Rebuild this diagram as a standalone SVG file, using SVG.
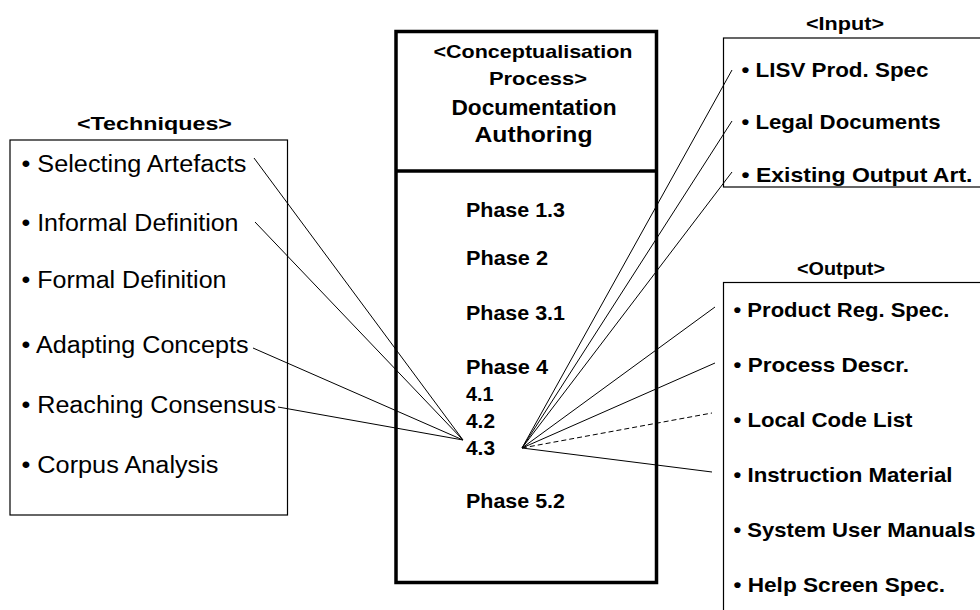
<svg xmlns="http://www.w3.org/2000/svg" width="980" height="610" viewBox="0 0 980 610">
  <style>
    text { font-family: "Liberation Sans", Arial, sans-serif; fill: #000; }
    .item { font-size: 23.5px; }
    .head { font-size: 18.5px; font-weight: bold; }
    .bitem { font-size: 21px; font-weight: bold; }
    .title { font-size: 22px; font-weight: bold; }
    .phase { font-size: 21px; font-weight: bold; }
    .box { fill: #fff; stroke: #000; stroke-width: 1.2; }
    .process { fill: #fff; stroke: #000; stroke-width: 3.5; }
    .link { stroke: #000; stroke-width: 1; fill: none; }
    .dashed { stroke-dasharray: 5 3; }
  </style>

  <!-- Techniques -->
  <g id="techniques">
    <text class="head" x="77" y="130" textLength="155" lengthAdjust="spacingAndGlyphs">&lt;Techniques&gt;</text>
    <rect class="box" x="10" y="140" width="277.5" height="375"/>
    <text class="item" x="21.5" y="172" textLength="225" lengthAdjust="spacingAndGlyphs">• Selecting Artefacts</text>
    <text class="item" x="21.5" y="231" textLength="217" lengthAdjust="spacingAndGlyphs">• Informal Definition</text>
    <text class="item" x="21.5" y="288" textLength="205" lengthAdjust="spacingAndGlyphs">• Formal Definition</text>
    <text class="item" x="21.5" y="353" textLength="227" lengthAdjust="spacingAndGlyphs">• Adapting Concepts</text>
    <text class="item" x="21.5" y="413" textLength="254.5" lengthAdjust="spacingAndGlyphs">• Reaching Consensus</text>
    <text class="item" x="21.5" y="473" textLength="197" lengthAdjust="spacingAndGlyphs">• Corpus Analysis</text>
  </g>

  <!-- Process -->
  <g id="process">
    <rect class="process" x="396" y="31.5" width="260.5" height="551"/>
    <line x1="396" y1="171" x2="656.5" y2="171" stroke="#000" stroke-width="3.5"/>
    <text class="head" x="433.5" y="58" textLength="199" lengthAdjust="spacingAndGlyphs">&lt;Conceptualisation</text>
    <text class="head" x="489" y="85" textLength="98" lengthAdjust="spacingAndGlyphs">Process&gt;</text>
    <text class="title" x="451.5" y="114.5" textLength="165" lengthAdjust="spacingAndGlyphs">Documentation</text>
    <text class="title" x="474.5" y="142" textLength="118" lengthAdjust="spacingAndGlyphs">Authoring</text>
    <text class="phase" x="466" y="217" textLength="99" lengthAdjust="spacingAndGlyphs">Phase 1.3</text>
    <text class="phase" x="466" y="265" textLength="82" lengthAdjust="spacingAndGlyphs">Phase 2</text>
    <text class="phase" x="466" y="320" textLength="99" lengthAdjust="spacingAndGlyphs">Phase 3.1</text>
    <text class="phase" x="466" y="374" textLength="82" lengthAdjust="spacingAndGlyphs">Phase 4</text>
    <text class="phase" x="466" y="401" textLength="27.5" lengthAdjust="spacingAndGlyphs">4.1</text>
    <text class="phase" x="466" y="428" textLength="29" lengthAdjust="spacingAndGlyphs">4.2</text>
    <text class="phase" x="466" y="455" textLength="29" lengthAdjust="spacingAndGlyphs">4.3</text>
    <text class="phase" x="466" y="508" textLength="99" lengthAdjust="spacingAndGlyphs">Phase 5.2</text>
  </g>

  <!-- Input -->
  <g id="input">
    <text class="head" x="806" y="30" textLength="78" lengthAdjust="spacingAndGlyphs">&lt;Input&gt;</text>
    <rect class="box" x="723.5" y="38" width="270" height="149"/>
    <text class="bitem" x="741.5" y="76.5" textLength="187" lengthAdjust="spacingAndGlyphs">• LISV Prod. Spec</text>
    <text class="bitem" x="741.5" y="128.5" textLength="199" lengthAdjust="spacingAndGlyphs">• Legal Documents</text>
    <text class="bitem" x="741.5" y="182" textLength="231" lengthAdjust="spacingAndGlyphs">•  Existing Output Art.</text>
  </g>

  <!-- Output -->
  <g id="output">
    <text class="head" x="797" y="275" textLength="88" lengthAdjust="spacingAndGlyphs">&lt;Output&gt;</text>
    <rect class="box" x="723.5" y="282.5" width="270" height="340"/>
    <text class="bitem" x="733.5" y="317" textLength="216" lengthAdjust="spacingAndGlyphs">• Product Reg. Spec.</text>
    <text class="bitem" x="733.5" y="371.5" textLength="175.5" lengthAdjust="spacingAndGlyphs">• Process Descr.</text>
    <text class="bitem" x="733.5" y="426.5" textLength="179" lengthAdjust="spacingAndGlyphs">• Local Code List</text>
    <text class="bitem" x="733.5" y="481.5" textLength="219" lengthAdjust="spacingAndGlyphs">• Instruction Material</text>
    <text class="bitem" x="733.5" y="536.5" textLength="242" lengthAdjust="spacingAndGlyphs">• System User Manuals</text>
    <text class="bitem" x="733.5" y="591.5" textLength="211.5" lengthAdjust="spacingAndGlyphs">• Help Screen Spec.</text>
  </g>

  <!-- Connectors -->
  <g id="connectors">
    <line class="link" x1="254" y1="158" x2="463" y2="440"/>
    <line class="link" x1="255" y1="222" x2="463" y2="440"/>
    <line class="link" x1="253" y1="348" x2="463" y2="440"/>
    <line class="link" x1="278" y1="407" x2="463" y2="440"/>
    <line class="link" x1="522" y1="448" x2="732" y2="70"/>
    <line class="link" x1="522" y1="448" x2="732" y2="121"/>
    <line class="link" x1="522" y1="448" x2="732" y2="172"/>
    <line class="link" x1="522" y1="448" x2="715" y2="307"/>
    <line class="link" x1="522" y1="448" x2="715" y2="363"/>
    <line class="link dashed" x1="522" y1="448" x2="712" y2="413"/>
    <line class="link" x1="522" y1="448" x2="712" y2="472"/>
  </g>
</svg>
